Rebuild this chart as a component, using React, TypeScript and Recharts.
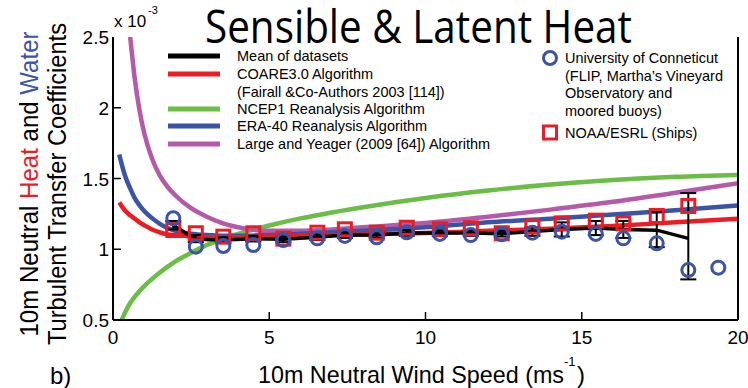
import { ComposedChart, Line, Scatter, XAxis, YAxis, ErrorBar } from "recharts";

const RED = "#ec1c24";
const BLUE = "#3b54a5";
const GREEN = "#6abd45";
const MAGENTA = "#b55aa8";
const FONT = "'Liberation Sans', Arial, sans-serif";

// model curves sampled on a wind grid (m/s), values x 10^-3
const windGrid = [0.2, 0.28, 0.4, 0.55, 0.7, 0.85, 1, 1.25, 1.5, 1.75, 2, 2.5, 3, 3.5, 4, 5, 6, 7, 8, 10, 12, 14, 16, 18, 20];
const coare = [1.33, 1.305, 1.27, 1.24, 1.215, 1.19, 1.17, 1.14, 1.12, 1.105, 1.1, 1.09, 1.085, 1.085, 1.085, 1.09, 1.095, 1.1, 1.105, 1.115, 1.13, 1.145, 1.165, 1.19, 1.215];
const era40 = [1.67, 1.6, 1.51, 1.43, 1.36, 1.31, 1.27, 1.22, 1.18, 1.15, 1.13, 1.11, 1.1, 1.095, 1.095, 1.1, 1.11, 1.12, 1.13, 1.155, 1.19, 1.215, 1.245, 1.275, 1.31];
const ncep1 = [null, 0.5, 0.56, 0.62, 0.665, 0.705, 0.74, 0.79, 0.835, 0.877, 0.915, 0.975, 1.03, 1.072, 1.108, 1.168, 1.218, 1.26, 1.297, 1.362, 1.415, 1.458, 1.49, 1.512, 1.525];
const largeYeager = [null, null, null, 2.5, 2.2, 1.98, 1.82, 1.64, 1.52, 1.44, 1.38, 1.29, 1.23, 1.185, 1.155, 1.13, 1.13, 1.14, 1.155, 1.185, 1.23, 1.28, 1.335, 1.4, 1.466];

// binned observations
const binWind = [1.93, 2.65, 3.53, 4.49, 5.45, 6.54, 7.42, 8.44, 9.4, 10.46, 11.45, 12.44, 13.42, 14.36, 15.45, 16.33, 17.4, 18.41];
const meanCoeff = [1.17, 1.07, 1.065, 1.075, 1.07, 1.085, 1.1, 1.1, 1.115, 1.115, 1.115, 1.11, 1.125, 1.14, 1.15, 1.14, 1.135, 1.077];
const meanErrLow = [0.03, 0.02, 0.02, 0.02, 0.02, 0.02, 0.02, 0.02, 0.02, 0.02, 0.02, 0.02, 0.03, 0.05, 0.05, 0.06, 0.12, 0.29];
const meanErrHigh = [0.03, 0.03, 0.02, 0.02, 0.02, 0.02, 0.02, 0.02, 0.02, 0.02, 0.02, 0.02, 0.03, 0.05, 0.05, 0.06, 0.13, 0.32];
const uconnWind = [1.93, 2.65, 3.53, 4.49, 5.45, 6.54, 7.42, 8.44, 9.4, 10.46, 11.45, 12.44, 13.42, 14.36, 15.45, 16.33, 17.4, 18.41, 19.37];
const uconnCoeff = [1.219, 1.018, 1.023, 1.03, 1.065, 1.077, 1.094, 1.084, 1.12, 1.108, 1.1, 1.106, 1.117, 1.124, 1.108, 1.077, 1.042, 0.853, 0.87];
const noaaCoeff = [1.136, 1.113, 1.089, 1.113, 1.075, 1.117, 1.141, 1.117, 1.152, 1.141, 1.148, 1.113, 1.16, 1.183, 1.202, 1.183, 1.235, 1.306];

const xTicks = [0, 5, 10, 15, 20];
const yTicks = [0.5, 1, 1.5, 2, 2.5];

const curveData = windGrid.map((x, i) => ({
  x,
  coare: coare[i],
  era: era40[i],
  ncep: ncep1[i],
  ly: largeYeager[i],
}));
const meanData = binWind.map((x, i) => ({ x, y: meanCoeff[i], err: [meanErrLow[i], meanErrHigh[i]] }));
const uconnData = uconnWind.map((x, i) => ({ x, y: uconnCoeff[i] }));
const noaaData = binWind.map((x, i) => ({ x, y: noaaCoeff[i] }));

const BottomTick = (props: any) => {
  const { x, y, payload } = props;
  const inner = payload.value > 0 && payload.value < 20;
  return (
    <g>
      {inner && <line x1={x} x2={x} y1={y} y2={y - 8} stroke="#000" strokeWidth={1.5} />}
      <text x={x} y={y + 24} textAnchor="middle" fontSize={19} fontFamily={FONT} fill="#000">
        {payload.value}
      </text>
    </g>
  );
};

const LeftTick = (props: any) => {
  const { x, y, payload } = props;
  const inner = payload.value > 0.5 && payload.value < 2.5;
  return (
    <g>
      {inner && <line x1={x} x2={x + 8} y1={y} y2={y} stroke="#000" strokeWidth={1.5} />}
      <text x={x - 4} y={y + 7} textAnchor="end" fontSize={19} fontFamily={FONT} fill="#000">
        {payload.value}
      </text>
    </g>
  );
};

const RightTick = (props: any) => {
  const { x, y, payload } = props;
  if (payload.value <= 0.5 || payload.value >= 2.5) return <g />;
  return <line x1={x} x2={x - 8} y1={y} y2={y} stroke="#000" strokeWidth={1.5} />;
};

const TopTick = (props: any) => {
  const { x, y, payload } = props;
  if (payload.value <= 0 || payload.value >= 20) return <g />;
  return <line x1={x} x2={x} y1={y} y2={y + 8} stroke="#000" strokeWidth={1.5} />;
};

const circleShape = (p: any) => (
  <circle cx={p.cx} cy={p.cy} r={6.5} fill="none" stroke={BLUE} strokeWidth={3} />
);
const squareShape = (p: any) => (
  <rect x={p.cx - 6.5} y={p.cy - 6.5} width={13} height={13} fill="none" stroke={RED} strokeWidth={3} />
);

const legendLines = [
  { y: 56, color: "#000", label: "Mean of datasets" },
  { y: 74, color: RED, label: "COARE3.0 Algorithm" },
  { y: 92, color: null, label: "(Fairall &Co-Authors 2003 [114])" },
  { y: 109, color: GREEN, label: "NCEP1 Reanalysis Algorithm" },
  { y: 126, color: BLUE, label: "ERA-40 Reanalysis Algorithm" },
  { y: 144, color: MAGENTA, label: "Large and Yeager (2009 [64]) Algorithm" },
];
const obsLines = ["University of Conneticut", "(FLIP, Martha\u2019s Vineyard", "Observatory and", "moored buoys)"];

export default function App() {
  return (
    <div style={{ position: "absolute", left: 0, top: 0, width: 748, height: 388, background: "#fff" }}>
      <ComposedChart width={748} height={388} data={curveData} margin={{ top: 37, right: 0, bottom: 38, left: 63 }}>
        <XAxis
          dataKey="x"
          type="number"
          domain={[0, 20]}
          ticks={xTicks}
          tickSize={0}
          tickMargin={0}
          tick={BottomTick}
          height={30}
          axisLine={{ stroke: "#000", strokeWidth: 2 }}
        />
        <XAxis
          xAxisId="top"
          orientation="top"
          dataKey="x"
          type="number"
          domain={[0, 20]}
          ticks={xTicks}
          tickSize={0}
          tickMargin={0}
          tick={TopTick}
          height={0}
          axisLine={{ stroke: "#000", strokeWidth: 2 }}
        />
        <YAxis
          dataKey="y"
          type="number"
          domain={[0.5, 2.5]}
          ticks={yTicks}
          tickSize={0}
          tickMargin={0}
          tick={LeftTick}
          width={50}
          allowDataOverflow
          axisLine={{ stroke: "#000", strokeWidth: 2 }}
        />
        <YAxis
          yAxisId="right"
          orientation="right"
          type="number"
          domain={[0.5, 2.5]}
          ticks={yTicks}
          tickSize={0}
          tickMargin={0}
          tick={RightTick}
          width={10}
          axisLine={{ stroke: "#000", strokeWidth: 2 }}
        />
        <Line dataKey="ncep" type="monotone" stroke={GREEN} strokeWidth={4.5} dot={false} isAnimationActive={false} />
        <Line dataKey="ly" type="monotone" stroke={MAGENTA} strokeWidth={4.5} dot={false} isAnimationActive={false} />
        <Line dataKey="era" type="monotone" stroke={BLUE} strokeWidth={4.5} dot={false} isAnimationActive={false} />
        <Line dataKey="coare" type="monotone" stroke={RED} strokeWidth={4.5} dot={false} isAnimationActive={false} />
        <Line data={meanData} dataKey="y" type="linear" stroke="#000" strokeWidth={3.5} dot={false} isAnimationActive={false}>
          <ErrorBar dataKey="err" direction="y" width={8} stroke="#000" strokeWidth={2} />
        </Line>
        <Scatter data={noaaData} dataKey="y" shape={squareShape} isAnimationActive={false} />
        <Scatter data={uconnData} dataKey="y" shape={circleShape} isAnimationActive={false} />
      </ComposedChart>
      <svg width={748} height={388} style={{ position: "absolute", left: 0, top: 0, pointerEvents: "none" }}>
        <text x={205} y={43} fontSize={45} fontFamily="'Open Sans', sans-serif" textLength={427} lengthAdjust="spacingAndGlyphs" fill="#000">
          Sensible &amp; Latent Heat
        </text>
        <text x={114} y={27} fontSize={17} fontFamily={FONT} fill="#000">x 10</text>
        <text x={148} y={14} fontSize={11} fontFamily={FONT} fill="#000">-3</text>
        {legendLines.map((l) => (
          <g key={l.label}>
            {l.color && <line x1={168} x2={220} y1={l.y} y2={l.y} stroke={l.color} strokeWidth={5} />}
            <text x={237} y={l.y + 5} fontSize={14.5} fontFamily={FONT} fill="#000">{l.label}</text>
          </g>
        ))}
        <circle cx={550} cy={58} r={6.5} fill="none" stroke={BLUE} strokeWidth={3} />
        {obsLines.map((t, i) => (
          <text key={t} x={565} y={63 + i * 17.5} fontSize={14.5} fontFamily={FONT} fill="#000">{t}</text>
        ))}
        <rect x={543.5} y={126} width={13} height={13} fill="none" stroke={RED} strokeWidth={3} />
        <text x={565} y={138} fontSize={14.5} fontFamily={FONT} fill="#000">NOAA/ESRL (Ships)</text>
        <text transform="translate(38,184) rotate(-90)" textAnchor="middle" fontSize={25} fontFamily={FONT} textLength={305} lengthAdjust="spacingAndGlyphs" fill="#000">
          10m Neutral <tspan fill={RED}>Heat</tspan> and <tspan fill={BLUE}>Water</tspan>
        </text>
        <text transform="translate(66,184) rotate(-90)" textAnchor="middle" fontSize={25} fontFamily={FONT} textLength={322} lengthAdjust="spacingAndGlyphs" fill="#000">
          Turbulent Transfer Coefficients
        </text>
        <text x={258} y={383} fontSize={24} fontFamily={FONT} textLength={306} lengthAdjust="spacingAndGlyphs" fill="#000">
          10m Neutral Wind Speed (ms
        </text>
        <text x={564} y={366} fontSize={13} fontFamily={FONT} fill="#000">-1</text>
        <text x={577} y={383} fontSize={24} fontFamily={FONT} fill="#000">)</text>
        <text x={50} y={384} fontSize={24} fontFamily={FONT} fill="#000">b)</text>
      </svg>
    </div>
  );
}
